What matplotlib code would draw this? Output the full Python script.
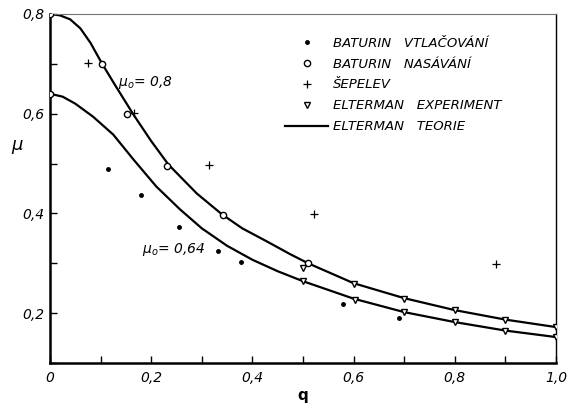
import numpy as np
import matplotlib.pyplot as plt
from matplotlib.ticker import MultipleLocator, FuncFormatter

# Teoreticke krivky (Elterman)
q_horni = [0.0, 0.02, 0.04, 0.06, 0.08, 0.103, 0.13, 0.165, 0.2, 0.234, 0.29, 0.34, 0.38,
           0.43, 0.475, 0.51, 0.6, 0.7, 0.8, 0.9, 1.0]
mu_horni = [0.80, 0.797, 0.789, 0.771, 0.742, 0.70, 0.655, 0.598, 0.545, 0.498, 0.44, 0.398,
            0.37, 0.343, 0.318, 0.30, 0.26, 0.23, 0.206, 0.187, 0.172]

q_dolni = [0.0, 0.025, 0.05, 0.085, 0.125, 0.165, 0.21, 0.257, 0.30, 0.35, 0.4, 0.45, 0.5,
           0.6, 0.7, 0.8, 0.9, 1.0]
mu_dolni = [0.64, 0.634, 0.62, 0.594, 0.558, 0.508, 0.454, 0.408, 0.37, 0.335, 0.307, 0.284,
            0.264, 0.229, 0.202, 0.182, 0.165, 0.152]

# Namerene body
q_vtlac = [0.115, 0.18, 0.255, 0.333, 0.378, 0.58, 0.69]
mu_vtlac = [0.488, 0.436, 0.372, 0.324, 0.302, 0.218, 0.19]

q_nasav = [0.0, 0.0, 0.103, 0.152, 0.232, 0.341, 0.51]
mu_nasav = [0.80, 0.64, 0.70, 0.60, 0.496, 0.396, 0.30]

q_sepelev = [0.075, 0.167, 0.315, 0.521, 0.881]
mu_sepelev = [0.702, 0.602, 0.498, 0.398, 0.298]

q_elt = [0.5, 0.5, 0.6, 0.602, 0.7, 0.7, 0.8, 0.8, 0.9, 0.9, 1.0, 1.0]
mu_elt = [0.29, 0.264, 0.258, 0.226, 0.228, 0.202, 0.206, 0.182, 0.187, 0.165, 0.172, 0.152]

plt.rcParams['font.family'] = 'DejaVu Sans'

fig = plt.figure(figsize=(5.72, 4.09), dpi=100)
ax = fig.add_axes([0.0874, 0.1125, 0.8846, 0.8535])

ax.plot(q_vtlac, mu_vtlac, 'k.', markersize=5, linestyle='none', label='BATURIN   VTLAČOVÁNÍ')
ax.plot(q_nasav, mu_nasav, 'o', color='k', markerfacecolor='white', markersize=4.5,
        markeredgewidth=1.0, linestyle='none', label='BATURIN   NASÁVÁNÍ', zorder=4)
ax.plot(q_sepelev, mu_sepelev, 'k+', markersize=6, markeredgewidth=0.9, linestyle='none',
        label='ŠEPELEV')
ax.plot(q_elt, mu_elt, 'v', color='k', markerfacecolor='white', markersize=5,
        markeredgewidth=1.0, linestyle='none', label='ELTERMAN   EXPERIMENT', zorder=4)
ax.plot(q_horni, mu_horni, 'k-', linewidth=1.6, label='ELTERMAN   TEORIE')
ax.plot(q_dolni, mu_dolni, 'k-', linewidth=1.6)

ax.set_xlim(0, 1.0)
ax.set_ylim(0.1, 0.8)

# Osy a znacky
carka = FuncFormatter(lambda v, p: '0' if abs(v) < 1e-9 else f'{v:.1f}'.replace('.', ','))
ax.xaxis.set_major_locator(MultipleLocator(0.2))
ax.xaxis.set_minor_locator(MultipleLocator(0.1))
ax.yaxis.set_major_locator(MultipleLocator(0.2))
ax.yaxis.set_minor_locator(MultipleLocator(0.1))
ax.xaxis.set_major_formatter(carka)
ax.yaxis.set_major_formatter(carka)
ax.tick_params(which='both', direction='in', length=5, width=1, labelsize=10)
ax.tick_params(axis='x', pad=6)
ax.tick_params(axis='y', pad=4)
for lab in ax.get_xticklabels() + ax.get_yticklabels():
    lab.set_fontstyle('italic')

ax.spines['left'].set_linewidth(1.8)
ax.spines['bottom'].set_linewidth(1.8)
ax.spines['right'].set_linewidth(1.0)
ax.spines['top'].set_linewidth(0.8)
ax.spines['top'].set_color('0.45')

ax.set_xlabel('q', fontsize=11, fontweight='bold', labelpad=2)
ax.set_ylabel('μ', fontsize=13, fontstyle='italic', rotation=0)
ax.yaxis.set_label_coords(-0.065, 0.6)

ax.text(0.135, 0.662, 'μ$_o$= 0,8', fontsize=10, fontstyle='italic', va='center')
ax.text(0.182, 0.328, 'μ$_o$= 0,64', fontsize=10, fontstyle='italic', va='center')

leg = ax.legend(loc='upper left', bbox_to_anchor=(0.455, 0.95), frameon=False,
                fontsize=9.5, handlelength=3.2, handletextpad=0.4, labelspacing=0.6,
                borderaxespad=0)
for t in leg.get_texts():
    t.set_fontstyle('italic')

fig.savefig('out.png', dpi=100)
